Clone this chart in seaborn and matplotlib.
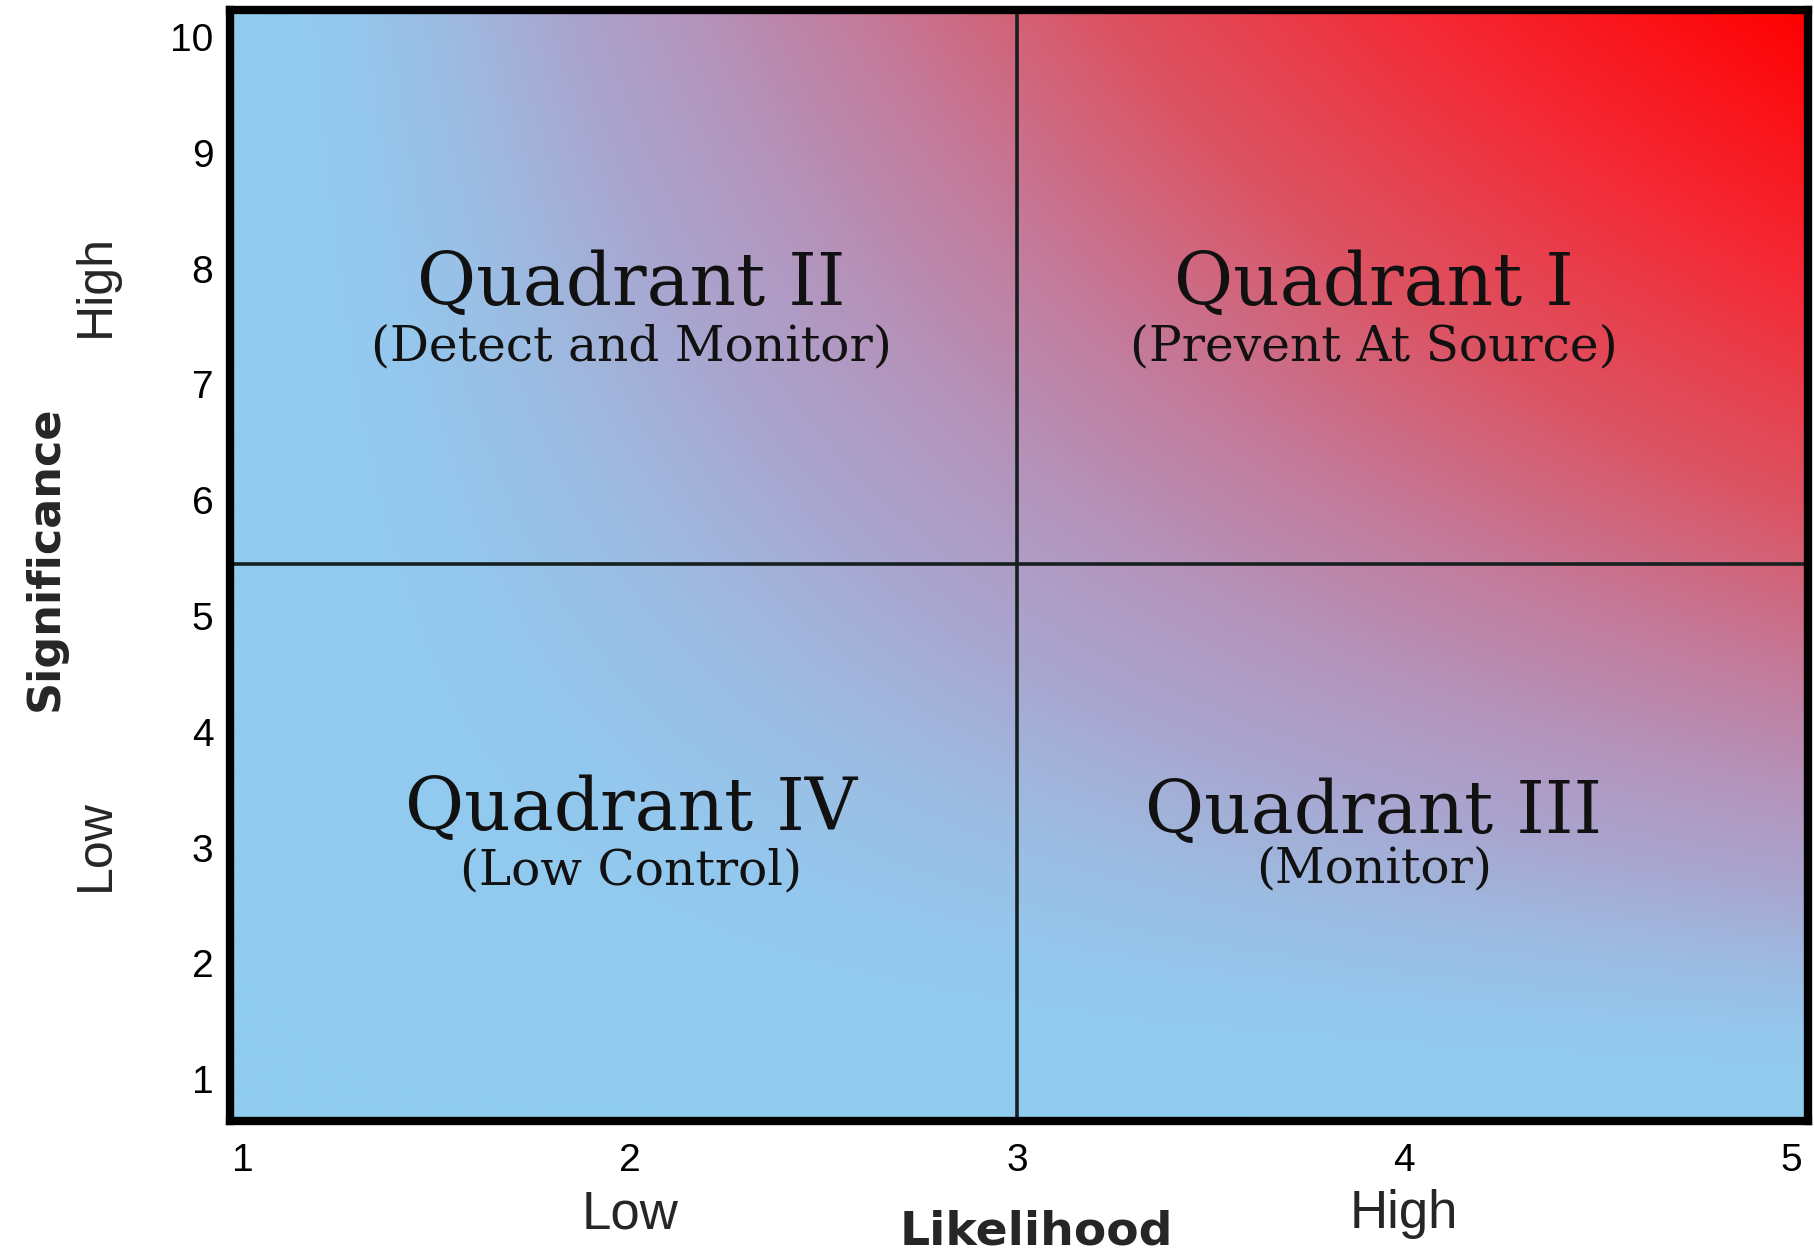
import numpy as np
import matplotlib
matplotlib.use("Agg")
import matplotlib.pyplot as plt
from matplotlib.colors import LinearSegmentedColormap
import seaborn as sns

# axis values and labels
likelihood_ticks = [1, 2, 3, 4, 5]
significance_ticks = [1, 2, 3, 4, 5, 6, 7, 8, 9, 10]
likelihood_split = 3.0
significance_split = 5.45
quadrant_titles = ["Quadrant II", "Quadrant I", "Quadrant IV", "Quadrant III"]
quadrant_subtitles = ["(Detect and Monitor)", "(Prevent At Source)",
                      "(Low Control)", "(Monitor)"]
level_names = ["Low", "High"]

sns.set_theme(style="white")
plt.rcParams["font.family"] = ["Liberation Sans", "DejaVu Sans"]

fig = plt.figure(figsize=(18.14, 12.55), dpi=100)
ax = fig.add_axes([0.1268, 0.1068, 0.870, 0.885])

xlim = (0.966, 5.044)
ylim = (0.64, 10.23)

# background: blue -> red blend, strongest toward the top right corner
fx = np.linspace(0, 1, 700)
fy = np.linspace(0, 1, 500)
FX, FY = np.meshgrid(fx, fy)
shade = FX * FY
stops = [(0.0, "#90ccf0"), (0.07, "#94c8ee"), (0.13, "#9cbce2"),
         (0.21, "#a9a5cf"), (0.29, "#b494bc"), (0.40, "#c47a9a"),
         (0.55, "#dc5362"), (0.75, "#f42a36"), (1.0, "#ff0000")]
cmap = LinearSegmentedColormap.from_list("risk", stops)
ax.imshow(shade, cmap=cmap, vmin=0, vmax=1, origin="lower", aspect="auto",
          extent=(xlim[0], xlim[1], ylim[0], ylim[1]), interpolation="bilinear")

# quadrant dividers
sns.lineplot(x=[likelihood_split, likelihood_split], y=list(ylim), ax=ax,
             color="#15201f", lw=2.6, estimator=None, sort=False)
sns.lineplot(x=list(xlim), y=[significance_split, significance_split], ax=ax,
             color="#15201f", lw=2.6, estimator=None, sort=False)

ax.set_xlim(*xlim)
ax.set_ylim(*ylim)

for s in ax.spines.values():
    s.set_visible(True)
    s.set_color("black")
    s.set_linewidth(6)

ax.set_xticks(likelihood_ticks)
ax.set_yticks(significance_ticks)
ax.tick_params(axis="both", length=0, labelsize=28, colors="black")
ax.tick_params(axis="x", pad=16)
ax.tick_params(axis="y", pad=12)

# quadrant labels
left_c = (xlim[0] + likelihood_split) / 2 + 0.02
right_c = (likelihood_split + xlim[1]) / 2 - 0.10
centres = [(left_c, 7.86, 7.32), (right_c, 7.86, 7.32),
           (left_c, 3.33, 2.80), (right_c, 3.30, 2.82)]
serif = ["DejaVu Serif"]
for (cx, ty, sy), title, sub in zip(centres, quadrant_titles, quadrant_subtitles):
    ax.text(cx, ty, title, ha="center", va="center", fontsize=52,
            family=serif, color="#111111")
    ax.text(cx, sy, sub, ha="center", va="center", fontsize=35,
            family=serif, color="#111111")

# Low / High level names and axis titles
ax.text(2.0, -0.084, level_names[0], transform=ax.get_xaxis_transform(),
        ha="center", va="center", fontsize=38)
ax.text(4.0, -0.084, level_names[1], transform=ax.get_xaxis_transform(),
        ha="center", va="center", fontsize=38)
ax.text(3.05, -0.100, "Likelihood", transform=ax.get_xaxis_transform(),
        ha="center", va="center", fontsize=34, fontweight="bold",
        family=["DejaVu Sans"])

ax.text(-0.085, 3.02, level_names[0], transform=ax.get_yaxis_transform(),
        ha="center", va="center", fontsize=36, rotation=90)
ax.text(-0.085, 7.85, level_names[1], transform=ax.get_yaxis_transform(),
        ha="center", va="center", fontsize=36, rotation=90)
ax.text(-0.117, 5.5, "Significance", transform=ax.get_yaxis_transform(),
        ha="center", va="center", fontsize=32, fontweight="bold",
        rotation=90, family=["DejaVu Sans"])

fig.savefig("out.png", dpi=100)
